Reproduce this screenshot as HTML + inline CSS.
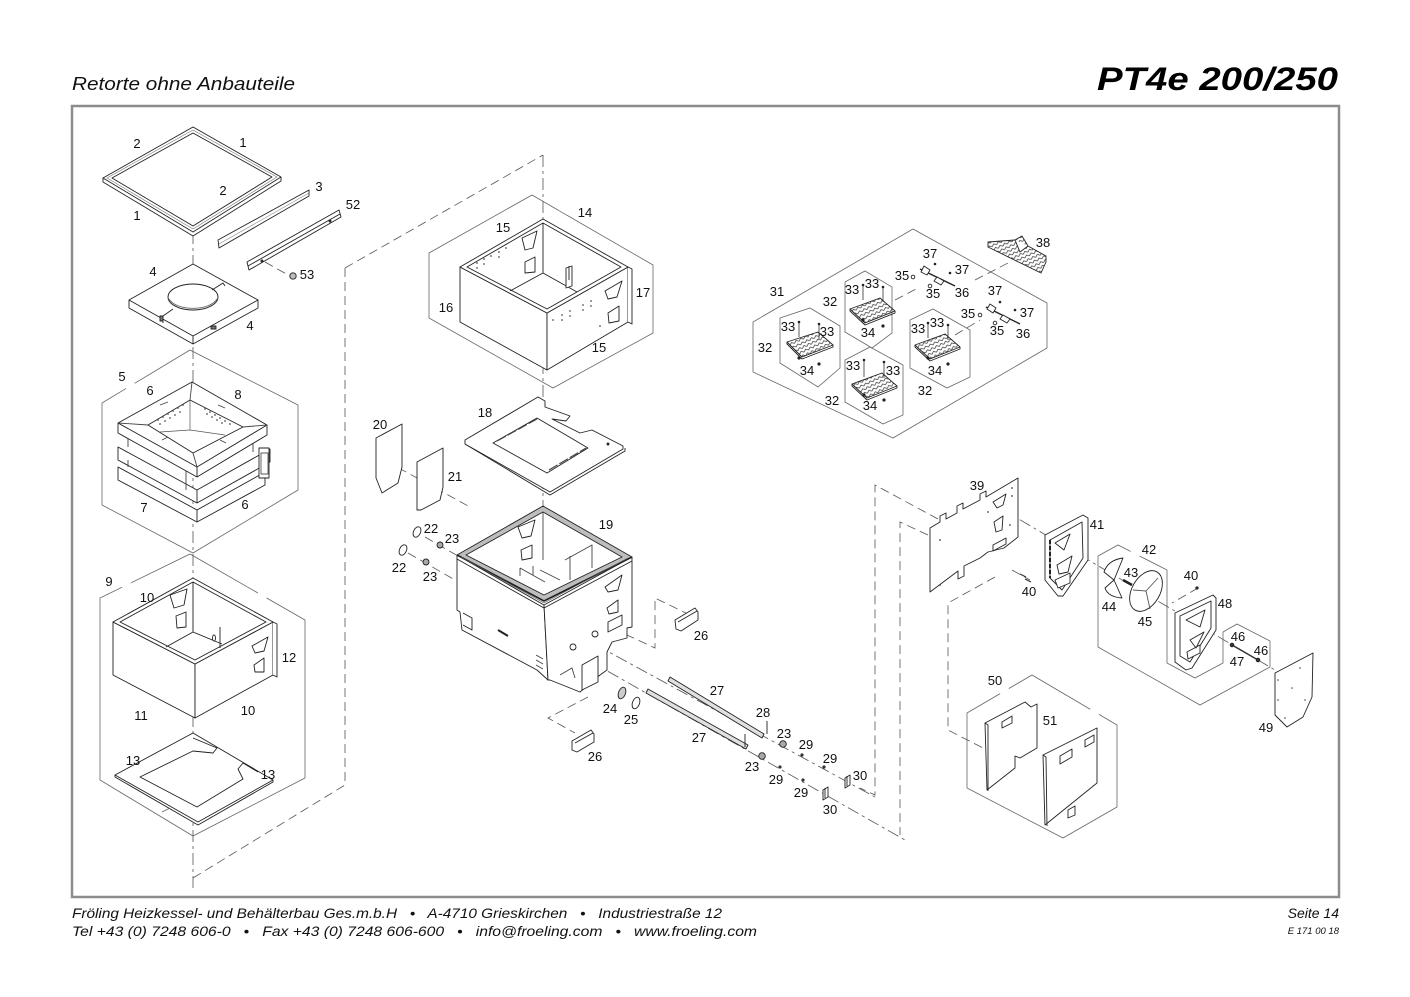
<!DOCTYPE html>
<html><head><meta charset="utf-8">
<style>
html,body{margin:0;padding:0;background:#fff;}
svg{display:block;}
</style></head><body>
<svg width="1410" height="997" viewBox="0 0 1410 997" xmlns="http://www.w3.org/2000/svg">
<defs>
<pattern id="hatch" width="5" height="4" patternUnits="userSpaceOnUse" patternTransform="rotate(-25)">
<path d="M0,3 L2.5,1 L5,3" fill="none" stroke="#333" stroke-width="0.7"/>
</pattern>
</defs>
<rect x="0" y="0" width="1410" height="997" fill="#fff"/>

<!-- header -->
<text x="72" y="90" font-family="Liberation Sans, sans-serif" font-style="italic" font-size="18" fill="#111" textLength="223" lengthAdjust="spacingAndGlyphs">Retorte ohne Anbauteile</text>
<text x="1097" y="90" font-family="Liberation Sans, sans-serif" font-style="italic" font-weight="bold" font-size="32" fill="#000" textLength="241" lengthAdjust="spacingAndGlyphs">PT4e 200/250</text>

<!-- frame -->
<rect x="72" y="106" width="1267" height="791" fill="none" stroke="#8c8c8c" stroke-width="2.5"/>

<!-- footer -->
<text x="72" y="918" font-family="Liberation Sans, sans-serif" font-style="italic" font-size="14" fill="#111" textLength="650" lengthAdjust="spacingAndGlyphs" xml:space="preserve">Fröling Heizkessel- und Behälterbau Ges.m.b.H   •   A-4710 Grieskirchen   •   Industriestraße 12</text>
<text x="72" y="936" font-family="Liberation Sans, sans-serif" font-style="italic" font-size="14" fill="#111" textLength="685" lengthAdjust="spacingAndGlyphs" xml:space="preserve">Tel +43 (0) 7248 606-0   •   Fax +43 (0) 7248 606-600   •   info@froeling.com   •   www.froeling.com</text>
<text x="1339" y="918" text-anchor="end" font-family="Liberation Sans, sans-serif" font-style="italic" font-size="14" fill="#111">Seite 14</text>
<text x="1339" y="934" text-anchor="end" font-family="Liberation Sans, sans-serif" font-style="italic" font-size="9.5" fill="#111">E 171 00 18</text>

<!-- HEXAGON GROUP OUTLINES -->
<g fill="none" stroke="#666" stroke-width="0.8">
<path d="M190,350 L298,405 L298,490 L193,553 L102,505 L102,403 Z"/>
<path d="M190,554 L305,620 L305,778 L193,836 L100,780 L100,598 Z"/>
<path d="M532,195 L653,265 L653,333 L553,388 L429,318 L429,253 Z"/>
<path d="M913,229 L1047,303 L1047,348 L893,438 L753,372 L753,322 Z"/>
<path d="M810,308 L840,326 L840,368 L818,387 L780,363 L780,318 Z"/>
<path d="M865,271 L892,287 L892,333 L872,348 L845,332 L845,282 Z"/>
<path d="M870,347 L903,365 L903,415 L883,424 L845,402 L845,360 Z"/>
<path d="M933,309 L970,330 L970,377 L947,388 L910,368 L910,320 Z"/>
<path d="M1098,647 L1098,556 L1118,545 L1167,570 L1167,663 L1195,678 L1223,663 L1223,632 L1237,624 L1270,641 L1270,667 L1200,705 Z"/>
<path d="M1032,675 L1117,725 L1117,807 L1063,838 L967,788 L967,713 Z"/>
</g>
<!-- small gaps in group outlines -->
<g fill="#fff" stroke="none">
<rect x="126" y="383" width="10" height="8" transform="rotate(-28 131 387)"/>
<rect x="120" y="578" width="10" height="8" transform="rotate(-30 125 582)"/>
<rect x="258" y="590" width="10" height="8" transform="rotate(30 263 594)"/>
<rect x="560" y="205" width="10" height="8" transform="rotate(30 565 209)"/>
<rect x="768" y="298" width="10" height="8" transform="rotate(-30 773 302)"/>
<rect x="1000" y="688" width="10" height="8" transform="rotate(-30 1005 692)"/>
<rect x="1090" y="707" width="10" height="8" transform="rotate(30 1095 711)"/>
<rect x="1130" y="550" width="10" height="8" transform="rotate(30 1135 554)"/>
</g>

<!-- DASHED LINES -->
<g fill="none" stroke="#555" stroke-width="0.8" stroke-dasharray="9,5">
<path d="M345,268 L543,155"/>
<path d="M345,268 L345,785 L193,878"/>
<path d="M386,461 L470,507"/>
<path d="M425,537 L458,556"/>
<path d="M408,553 L455,580"/>
<path d="M690,615 L655,598 L655,648 L612,628"/>
<path d="M588,697 L548,718 L575,733"/>
<path d="M938,519 L875,485 L875,795 L860,788"/>
<path d="M928,535 L900,522 L900,835"/>
<path d="M995,577 L948,603 L948,730 L983,748"/>
<path d="M265,262 L290,276"/>
<path d="M1012,570 L1030,580"/>
<path d="M1198,588 L1172,603"/>
<path d="M895,300 L918,288"/>
<path d="M955,335 L980,320"/>
<path d="M975,280 L1010,262"/>
</g>
<g fill="none" stroke="#555" stroke-width="0.8" stroke-dasharray="12,4,3,4">
<path d="M193,232 L193,888"/>
<path d="M543,155 L543,600"/>
<path d="M596,645 L875,797"/>
<path d="M588,660 L905,840"/>
<path d="M1000,508 L1280,673"/>
</g>

<!-- PARTS -->
<g fill="#fff" stroke="#222" stroke-width="0.9" stroke-linejoin="round">

<!-- 1/2 frame -->
<path d="M193,127 L281,177 L281,181 L193,236 L103,182 L103,178 Z"/>
<path d="M103,178 L193,232 L281,177" fill="none"/>
<path d="M193,130 L277,177 L193,229 L107,178 Z" fill="none" stroke="#777" stroke-width="0.6"/>
<path d="M193,133 L272,177 L193,226 L112,178 Z"/>

<!-- 3 strip -->
<polygon points="218,240 309,190 309,196 219,248"/>
<path d="M219,244 L309,193" fill="none" stroke="#888" stroke-width="0.6"/>
<!-- 52 rail -->
<polygon points="247,262 339,210 341,217 249,270"/>
<path d="M248,266 L340,214" fill="none"/>
<circle cx="262" cy="261" r="1" fill="#444"/>
<circle cx="330" cy="221" r="1" fill="#444"/>
<!-- 53 nut -->
<circle cx="293" cy="276" r="3.2" fill="#bbb"/>

<!-- 4 plate -->
<path d="M129,300 L193,264 L258,300 L258,308 L193,344 L129,308 Z"/>
<path d="M129,300 L193,336 L258,300 M193,336 L193,344" fill="none"/>
<ellipse cx="193" cy="297" rx="25" ry="13"/>
<path d="M169,299 A25,13 0 0 0 217,299" fill="none" stroke="#666"/>
<path d="M212,290 L223,283 L225,286 M173,309 L163,316 L163,323" fill="none"/>
<rect x="160" y="316" width="3" height="5" fill="#777"/>
<rect x="211" y="326" width="5" height="3" fill="#777"/>

<!-- 5 refractory -->
<path d="M118,467 L197,510 L265,472 L265,485 L197,522 L118,480 Z"/>
<path d="M197,510 L197,522" fill="none"/>
<path d="M118,447 L197,490 L270,449 L270,462 L197,503 L118,460 Z"/>
<path d="M197,490 L197,503" fill="none"/>
<rect x="259" y="448" width="10" height="30" fill="#fff"/>
<path d="M261,453 L268,453 L268,474 L261,474 Z" fill="none" stroke="#555"/>
<path d="M128,436 L128,447 M186,467 L186,490 M128,460 L128,467 M253,440 L253,452" fill="none" stroke="#444"/>
<path d="M192,382 L267,425 L267,435 L197,477 L118,433 L118,423 Z"/>
<path d="M118,423 L197,467 L267,425 M197,467 L197,477" fill="none"/>
<path d="M148,425 L190,400 L243,427 L193,453 Z" fill="#fff"/>
<path d="M192,382 L190,400 M118,423 L148,425 M197,467 L193,453 M267,425 L243,427" fill="none" stroke="#444"/>
<path d="M190,400 L190,430 L160,432 M190,430 L225,435" fill="none" stroke="#555" stroke-width="0.7"/>
<g fill="#555" stroke="none">
<circle cx="158" cy="420" r="0.9"/><circle cx="163" cy="417" r="0.9"/><circle cx="168" cy="414" r="0.9"/><circle cx="173" cy="411" r="0.9"/><circle cx="178" cy="408" r="0.9"/><circle cx="183" cy="405" r="0.9"/>
<circle cx="160" cy="424" r="0.9"/><circle cx="165" cy="421" r="0.9"/><circle cx="170" cy="418" r="0.9"/><circle cx="175" cy="415" r="0.9"/><circle cx="180" cy="412" r="0.9"/>
<circle cx="205" cy="409" r="0.9"/><circle cx="210" cy="412" r="0.9"/><circle cx="215" cy="415" r="0.9"/><circle cx="220" cy="418" r="0.9"/><circle cx="225" cy="421" r="0.9"/><circle cx="230" cy="424" r="0.9"/>
<circle cx="207" cy="414" r="0.9"/><circle cx="212" cy="417" r="0.9"/><circle cx="217" cy="420" r="0.9"/><circle cx="222" cy="423" r="0.9"/>
</g>
<path d="M160,405 L168,402 M218,405 L225,408 M162,440 L168,437 M220,440 L226,443" fill="none" stroke="#444"/>

<!-- 10/11/12 box -->
<path d="M113,622 L195,664 L195,718 L113,675 Z"/>
<path d="M195,664 L273,622 L273,675 L195,718 Z"/>
<path d="M273,622 L277,624 L277,677 L273,675" fill="#fff"/>
<path d="M193,578 L273,622 L195,664 L113,622 Z"/>
<path d="M193,582 L266,622 L195,660 L120,622 Z"/>
<path d="M193,582 L193,632 L166,647 M193,632 L222,644 M220,627 L220,648" fill="none"/>
<path d="M170,595 L187,589 L184,605 L174,608 Z" fill="#fff"/>
<path d="M176,616 L186,612 L186,627 L177,628 Z" fill="#fff"/>
<ellipse cx="214" cy="638" rx="1.5" ry="3" fill="#fff"/>
<path d="M252,646 L268,637 L264,651 L255,653 Z" fill="#fff"/>
<path d="M254,665 L264,658 L264,672 L255,672 Z" fill="#fff"/>

<!-- 13 plate -->
<path d="M193,733 L273,780 L273,782 L198,825 L115,777 L115,775 Z"/>
<path d="M115,775 L198,822 L273,780" fill="none"/>
<path d="M193,738 L217,748 L213,753 L193,751 L140,777 L197,807 L243,779 L238,769 L243,763 L258,772" fill="none"/>
<path d="M162,812 L170,808" fill="none" stroke="#666"/>

<!-- 14 box -->
<path d="M460,267 L547,313 L547,370 L460,322 Z"/>
<path d="M547,313 L628,267 L628,322 L547,370 Z"/>
<path d="M628,267 L632,269 L632,324 L628,322" fill="#fff"/>
<path d="M543,219 L628,267 L547,313 L460,267 Z"/>
<path d="M543,223 L621,267 L547,309 L467,267 Z"/>
<path d="M543,223 L543,273 L510,291 M543,273 L577,292" fill="none"/>
<path d="M522,238 L537,231 L533,248 L525,250 Z" fill="#fff"/>
<path d="M525,262 L535,257 L535,272 L525,273 Z" fill="#fff"/>
<path d="M566,268 L572,266 L572,286 L566,288 Z M569,266 L569,280" fill="#fff"/>
<path d="M605,291 L622,281 L617,297 L608,299 Z" fill="#fff"/>
<path d="M608,313 L619,306 L619,321 L609,323 Z" fill="#fff"/>
<g fill="#555" stroke="none">
<circle cx="477" cy="263" r="0.9"/><circle cx="484" cy="259" r="0.9"/><circle cx="491" cy="256" r="0.9"/><circle cx="477" cy="268" r="0.9"/><circle cx="484" cy="264" r="0.9"/><circle cx="499" cy="252" r="0.9"/><circle cx="506" cy="248" r="0.9"/><circle cx="499" cy="257" r="0.9"/>
<circle cx="562" cy="315" r="0.9"/><circle cx="570" cy="311" r="0.9"/><circle cx="562" cy="320" r="0.9"/><circle cx="570" cy="316" r="0.9"/><circle cx="583" cy="305" r="0.9"/><circle cx="591" cy="301" r="0.9"/><circle cx="583" cy="310" r="0.9"/><circle cx="591" cy="306" r="0.9"/><circle cx="600" cy="326" r="0.9"/><circle cx="553" cy="320" r="0.9"/>
</g>

<!-- 18 plate -->
<path d="M465,444 L550,495 L625,451 L625,448" fill="none"/>
<path d="M465,440 L538,397 L545,401 L545,407 L570,416 L566,421 L552,419 L580,433 L592,430 L623,446 L623,449 L550,492 L465,444 Z"/>
<path d="M493,443 L537,418 L588,448 L547,473 Z" fill="#fff"/>
<path d="M497,441 L537,419 M549,470 L586,448" fill="none" stroke="#444" stroke-width="1.2" stroke-dasharray="10,2"/>
<circle cx="608" cy="444" r="1" fill="#333"/>

<!-- 20 / 21 -->
<path d="M376,438 L402,424 L402,467 L398,483 L382,493 L376,478 Z"/>
<path d="M417,462 L443,448 L443,487 L440,500 L421,510 L417,510 Z"/>

<!-- 19 box -->
<path d="M457,555 L544,605 L548,680 L537,670 L462,630 L460,612 L457,610 Z"/>
<path d="M544,605 L632,557 L632,627 L627,628 L627,638 L612,642 L607,652 L607,670 L600,675 L580,692 L550,680 L548,680 Z"/>
<path d="M543,506 L632,557 L544,601 L457,555 Z" fill="#bdbdbd"/>
<path d="M543,512 L622,557 L544,595 L466,555 Z" fill="#fff"/>
<path d="M457,555 L544,601 L632,557" fill="none" stroke="#222" stroke-width="1.6"/>
<path d="M457,559 L544,608 L632,561" fill="none"/>
<path d="M461,557 L544,603 L628,558" fill="none" stroke="#555" stroke-width="0.7"/>
<path d="M543,512 L543,560 M520,568 L545,582 M533,566 L533,575 M520,568 L520,576 M565,560 L592,545 L592,568 M570,556 L570,580 M540,570 L560,580" fill="none" stroke="#444"/>
<path d="M518,527 L535,520 L531,536 L522,538 Z" fill="#fff"/>
<path d="M521,550 L532,545 L532,558 L522,560 Z" fill="#fff"/>
<path d="M605,587 L622,575 L618,590 L608,592 Z" fill="#fff"/>
<path d="M607,608 L618,600 L618,612 L609,614 Z" fill="#fff"/>
<path d="M608,622 L622,615 L622,625 L608,632 Z" fill="#fff"/>
<circle cx="595" cy="634" r="3" fill="#fff"/>
<circle cx="573" cy="647" r="3" fill="#fff"/>
<path d="M582,665 L598,656 L598,682 L582,690 Z" fill="#fff"/>
<path d="M463,613 L472,618 L472,630 L463,625" fill="none"/>
<path d="M498,630 L508,636" fill="none" stroke="#222" stroke-width="2"/>
<path d="M536,665 L543,669 M536,660 L543,664 M536,655 L543,659" fill="none" stroke="#444"/>
<path d="M560,675 L572,668 L575,678" fill="none" stroke="#444"/>

<!-- 22 / 23 -->
<ellipse cx="417" cy="532" rx="3.5" ry="5.5" transform="rotate(25 417 532)"/>
<ellipse cx="403" cy="550" rx="3.5" ry="5.5" transform="rotate(25 403 550)"/>
<circle cx="440" cy="545" r="3" fill="#aaa"/>
<circle cx="426" cy="562" r="3" fill="#aaa"/>

<!-- 24 / 25 -->
<ellipse cx="622" cy="693" rx="3.5" ry="6" transform="rotate(20 622 693)" fill="#ccc"/>
<ellipse cx="636" cy="703" rx="3.5" ry="6" transform="rotate(20 636 703)"/>

<!-- 26 brackets -->
<path d="M675,620 L695,608 L698,612 L698,620 L681,631 L676,629 Z"/>
<path d="M678,622 L697,611" fill="none"/>
<path d="M572,741 L591,730 L594,734 L594,742 L577,752 L572,750 Z"/>
<path d="M575,743 L593,733" fill="none"/>

<!-- 27 rods -->
<path d="M670,677 L764,734 L762,738 L668,681 Z" fill="#e0e0e0"/>
<path d="M648,689 L748,745 L746,749 L646,693 Z" fill="#e0e0e0"/>
<path d="M767,721 L767,734 M745,734 L745,747" fill="none"/>
<circle cx="783" cy="744" r="3.3" fill="#aaa"/>
<circle cx="762" cy="756" r="3.3" fill="#aaa"/>
<g fill="#333" stroke="none">
<circle cx="802" cy="755" r="1.6"/><circle cx="824" cy="767" r="1.6"/><circle cx="780" cy="767" r="1.6"/><circle cx="803" cy="780" r="1.6"/>
</g>
<path d="M845,778 L850,775 L850,785 L845,788 Z M847,776 L847,786"/>
<path d="M823,790 L828,787 L828,797 L823,800 Z M825,788 L825,798"/>

<!-- 31 group plates -->
<g>
<path d="M787,342 L818,332 L833,345 L802,357 Z" fill="url(#hatch)"/>
<path d="M787,342 L787,344 L802,359 L833,347 L833,345" fill="none"/>
<path d="M850,309 L880,298 L895,311 L865,323 Z" fill="url(#hatch)"/>
<path d="M850,309 L850,311 L865,325 L895,313 L895,311" fill="none"/>
<path d="M852,384 L882,373 L897,386 L867,398 Z" fill="url(#hatch)"/>
<path d="M852,384 L852,386 L867,400 L897,388 L897,386" fill="none"/>
<path d="M915,345 L945,334 L960,347 L930,359 Z" fill="url(#hatch)"/>
<path d="M915,345 L915,347 L930,361 L960,349 L960,347" fill="none"/>
</g>
<g fill="none" stroke="#333" stroke-width="0.8">
<path d="M799,322 L799,337 M819,324 L819,339 M863,285 L863,300 M883,287 L883,302 M864,360 L864,377 M884,362 L884,378 M928,323 L928,338 M948,325 L948,340"/>
</g>
<g fill="#222" stroke="none">
<circle cx="799" cy="322" r="1.3"/><circle cx="819" cy="324" r="1.3"/><circle cx="863" cy="285" r="1.3"/><circle cx="883" cy="287" r="1.3"/><circle cx="864" cy="360" r="1.3"/><circle cx="884" cy="362" r="1.3"/><circle cx="928" cy="323" r="1.3"/><circle cx="948" cy="325" r="1.3"/>
<circle cx="799" cy="358" r="1.6"/><circle cx="819" cy="364" r="1.6"/><circle cx="863" cy="320" r="1.6"/><circle cx="883" cy="326" r="1.6"/><circle cx="864" cy="395" r="1.6"/><circle cx="884" cy="400" r="1.6"/><circle cx="928" cy="358" r="1.6"/><circle cx="948" cy="364" r="1.6"/>
<circle cx="935" cy="264" r="1.3"/><circle cx="950" cy="273" r="1.3"/><circle cx="1000" cy="302" r="1.3"/><circle cx="1015" cy="310" r="1.3"/>
</g>
<path d="M920,269 L955,286" fill="none" stroke="#222" stroke-width="1.4"/>
<path d="M924,266 L930,270 L927,275 L921,272 Z M937,277 L944,281 L941,285 L934,281 Z"/>
<circle cx="913" cy="277" r="1.8"/><circle cx="930" cy="286" r="1.8"/>
<path d="M986,307 L1020,324" fill="none" stroke="#222" stroke-width="1.4"/>
<path d="M990,304 L996,308 L993,313 L987,309 Z M1003,315 L1010,319 L1007,323 L1000,319 Z"/>
<circle cx="980" cy="315" r="1.8"/><circle cx="995" cy="323" r="1.8"/>
<!-- 38 -->
<path d="M988,242 L1015,240 L1022,236 L1028,246 L1046,256 L1046,262 L1041,273 L988,247 Z" fill="url(#hatch)"/>
<path d="M1015,240 L1020,252 L1028,246" fill="#fff"/>

<!-- 39 panel -->
<path d="M930,528 L940,522 L940,516 L946,513 L946,519 L957,513 L957,506 L963,503 L963,509 L980,500 L980,494 L986,491 L986,497 L1018,478 L1018,537 L1004,548 L988,552 L980,558 L964,566 L964,576 L958,579 L958,571 L930,592 Z"/>
<path d="M993,502 L1006,494 L1003,505 L997,508 Z M994,522 L1003,516 L1002,530 L996,532 Z M993,545 L1006,538 L1006,544 L993,551 Z" fill="#fff"/>
<g fill="#444" stroke="none">
<circle cx="1012" cy="488" r="0.9"/><circle cx="1012" cy="496" r="0.9"/><circle cx="988" cy="512" r="0.9"/><circle cx="1010" cy="525" r="0.9"/><circle cx="940" cy="585" r="0.9"/><circle cx="940" cy="540" r="0.9"/>
</g>
<path d="M1020,574 L1026,577 M1025,579 L1031,582" fill="none" stroke="#333" stroke-width="1.2"/>
<!-- 41 frame -->
<path d="M1045,535 L1083,515 L1088,518 L1088,560 L1063,596 L1058,596 L1045,580 Z"/>
<path d="M1050,540 L1082,522 L1083,558 L1062,590 L1050,578 Z" fill="#fff"/>
<path d="M1055,543 L1070,534 L1064,550 Z M1057,565 L1072,556 L1068,572 L1059,574 Z M1055,580 L1070,573 L1070,583 L1058,588 Z" fill="#fff"/>
<path d="M1050,540 L1050,578" fill="none" stroke="#222" stroke-width="2" stroke-dasharray="4,2"/>
<!-- 44 blade -->
<path d="M1114,580 L1123,558 Q1108,560 1104,572 Z"/>
<path d="M1114,580 L1122,598 Q1108,597 1105,588 Z"/>
<path d="M1123,580 L1132,585" fill="none" stroke="#222" stroke-width="2.5"/>
<!-- 45 disc -->
<ellipse cx="1146" cy="591" rx="14" ry="22" transform="rotate(30 1146 591)"/>
<path d="M1146,591 L1158,578 M1146,591 L1150,609 M1146,591 L1133,590" fill="none" stroke="#555"/>
<circle cx="1197" cy="588" r="1.2" fill="#333"/>
<!-- 48 frame -->
<path d="M1175,613 L1213,595 L1216,598 L1216,630 L1192,668 L1186,670 L1175,662 Z"/>
<path d="M1180,616 L1211,601 L1211,628 L1190,662 L1180,656 Z" fill="#fff"/>
<path d="M1186,620 L1205,610 L1200,627 Z M1190,640 L1204,632 L1196,648 Z M1187,652 L1200,645 L1200,653 L1188,659 Z" fill="#fff"/>
<!-- 46/47 -->
<path d="M1232,645 L1258,660" fill="none" stroke="#333" stroke-width="1.5"/>
<circle cx="1232" cy="645" r="1.8" fill="#333"/>
<circle cx="1258" cy="660" r="1.8" fill="#333"/>
<!-- 49 plate -->
<path d="M1275,673 L1313,653 L1312,697 L1303,717 L1287,727 L1275,715 Z"/>
<g fill="#444" stroke="none">
<circle cx="1278" cy="680" r="0.8"/><circle cx="1278" cy="700" r="0.8"/><circle cx="1300" cy="668" r="0.8"/><circle cx="1292" cy="688" r="0.8"/><circle cx="1305" cy="700" r="0.8"/><circle cx="1285" cy="718" r="0.8"/>
</g>

<!-- 50 / 51 panels -->
<path d="M985,723 L1025,702 L1031,707 L1037,704 L1037,748 L1020,758 L1015,756 L1015,768 L987,790 Z"/>
<path d="M985,723 L988,725 L988,791" fill="none"/>
<path d="M1002,722 L1012,716 L1012,723 L1002,728 Z" fill="#fff"/>
<path d="M1043,755 L1097,728 L1097,783 L1045,825 Z"/>
<path d="M1043,755 L1046,757 L1047,826" fill="none"/>
<path d="M1060,756 L1072,749 L1072,757 L1060,764 Z M1085,740 L1094,735 L1094,742 L1085,747 Z M1068,810 L1075,806 L1075,815 L1068,818 Z" fill="#fff"/>
</g>

<!-- LABELS -->
<g font-family="Liberation Sans, sans-serif" font-size="13" fill="#111" text-anchor="middle">
<text x="137" y="148">2</text>
<text x="243" y="147">1</text>
<text x="223" y="195">2</text>
<text x="137" y="220">1</text>
<text x="319" y="191">3</text>
<text x="353" y="209">52</text>
<text x="307" y="279">53</text>
<text x="153" y="276">4</text>
<text x="250" y="330">4</text>
<text x="122" y="381">5</text>
<text x="150" y="395">6</text>
<text x="238" y="399">8</text>
<text x="144" y="512">7</text>
<text x="245" y="509">6</text>
<text x="109" y="586">9</text>
<text x="147" y="602">10</text>
<text x="289" y="662">12</text>
<text x="141" y="720">11</text>
<text x="248" y="715">10</text>
<text x="133" y="765">13</text>
<text x="268" y="779">13</text>
<text x="585" y="217">14</text>
<text x="503" y="232">15</text>
<text x="446" y="312">16</text>
<text x="643" y="297">17</text>
<text x="599" y="352">15</text>
<text x="485" y="417">18</text>
<text x="380" y="429">20</text>
<text x="455" y="481">21</text>
<text x="606" y="529">19</text>
<text x="431" y="533">22</text>
<text x="452" y="543">23</text>
<text x="399" y="572">22</text>
<text x="430" y="581">23</text>
<text x="701" y="640">26</text>
<text x="610" y="713">24</text>
<text x="631" y="724">25</text>
<text x="595" y="761">26</text>
<text x="717" y="695">27</text>
<text x="699" y="742">27</text>
<text x="763" y="717">28</text>
<text x="784" y="738">23</text>
<text x="806" y="749">29</text>
<text x="830" y="763">29</text>
<text x="752" y="771">23</text>
<text x="776" y="784">29</text>
<text x="801" y="797">29</text>
<text x="860" y="780">30</text>
<text x="830" y="814">30</text>
<text x="930" y="258">37</text>
<text x="962" y="274">37</text>
<text x="902" y="280">35</text>
<text x="933" y="298">35</text>
<text x="962" y="297">36</text>
<text x="1043" y="247">38</text>
<text x="777" y="296">31</text>
<text x="830" y="306">32</text>
<text x="852" y="294">33</text>
<text x="872" y="288">33</text>
<text x="868" y="337">34</text>
<text x="995" y="295">37</text>
<text x="1027" y="317">37</text>
<text x="968" y="318">35</text>
<text x="997" y="335">35</text>
<text x="1023" y="338">36</text>
<text x="788" y="331">33</text>
<text x="827" y="336">33</text>
<text x="765" y="352">32</text>
<text x="807" y="375">34</text>
<text x="918" y="333">33</text>
<text x="937" y="327">33</text>
<text x="935" y="375">34</text>
<text x="853" y="370">33</text>
<text x="893" y="375">33</text>
<text x="870" y="410">34</text>
<text x="832" y="405">32</text>
<text x="925" y="395">32</text>
<text x="977" y="490">39</text>
<text x="1097" y="529">41</text>
<text x="1149" y="554">42</text>
<text x="1131" y="577">43</text>
<text x="1191" y="580">40</text>
<text x="1109" y="611">44</text>
<text x="1145" y="626">45</text>
<text x="1225" y="608">48</text>
<text x="1029" y="596">40</text>
<text x="1238" y="641">46</text>
<text x="1261" y="655">46</text>
<text x="1237" y="666">47</text>
<text x="1266" y="732">49</text>
<text x="995" y="685">50</text>
<text x="1050" y="725">51</text>
</g>
</svg>
</body></html>
